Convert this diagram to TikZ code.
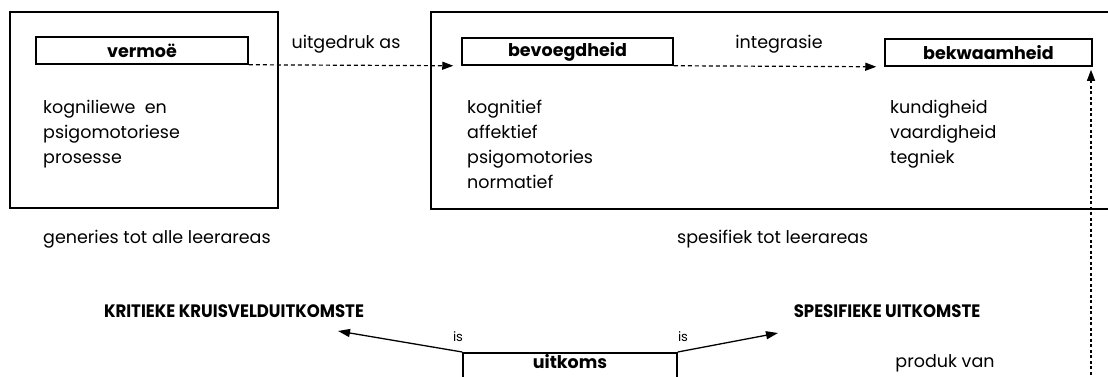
\documentclass[tikz,border=0pt]{standalone}
\usepackage{fontspec}
\setmainfont{Poppins}
\newfontfamily\capsfont[FakeStretch=0.92]{Poppins}
\usetikzlibrary{arrows.meta}
\begin{document}
\begin{tikzpicture}[x=1pt,y=-1pt,
  frame/.style={draw,line width=1.5pt,inner sep=0pt,anchor=north west},
  lbox/.style={draw,line width=1.5pt,inner sep=0pt,minimum height=27pt,font=\fontsize{17.5}{19}\selectfont\bfseries},
  txt/.style={inner sep=0pt,font=\fontsize{17.5}{25}\selectfont,align=left,anchor=north west},
  lab/.style={inner sep=0pt,font=\fontsize{17.5}{19}\selectfont},
  caps/.style={inner sep=0pt,font=\capsfont\fontsize{18}{20}\selectfont\bfseries},
  small/.style={inner sep=0pt,font=\fontsize{13}{14}\selectfont},
  dashline/.style={line width=1.2pt,dash pattern=on 4pt off 3pt,-{Triangle[length=11pt,width=8pt]}},
  solidarrow/.style={line width=1.3pt,-{Triangle[length=12pt,width=8pt]}}]
\useasboundingbox (0,0) rectangle (1108,376);
% big frames
\node[frame,minimum width=268pt,minimum height=196pt] (bigL) at (9,11) {};
\node[frame,minimum width=700pt,minimum height=197pt] (bigR) at (430,11) {};
% labelled boxes
\node[lbox,minimum width=212pt] (vermoe) at (142,50.5) {vermoë};
\node[lbox,minimum width=211pt] (bevoeg) at (567.5,51.5) {bevoegdheid};
\node[lbox,minimum width=207pt] (bekwaam) at (988.5,52.5) {bekwaamheid};
\node[lbox,minimum width=214pt,minimum height=30pt,text height=13pt,text depth=12pt,anchor=north] (uitkoms) at (570,352) {uitkoms};
% lists
\node[txt] (listL) at (43,100) {kogniliewe\ \ en\\psigomotoriese\\prosesse};
\node[txt] (listM) at (467,100) {kognitief\\affektief\\psigomotories\\normatief};
\node[txt] (listR) at (890,100) {kundigheid\\vaardigheid\\tegniek};
% labels
\node[lab] (uitgedruk) at (346,44) {uitgedruk as};
\node[lab] (integrasie) at (779,44) {integrasie};
\node[lab,anchor=west] (generies) at (43,239) {generies tot alle leerareas};
\node[lab,anchor=west] (spesifiek) at (677,239) {spesifiek tot leerareas};
\node[lab] (produk) at (945,363) {produk van};
\node[caps] (krit) at (234,311) {KRITIEKE KRUISVELDUITKOMSTE};
\node[caps] (spes) at (887,311) {SPESIFIEKE UITKOMSTE};
\node[small] (isL) at (458,337) {is};
\node[small] (isR) at (683,337) {is};
% connectors
\draw[dashline] (vermoe.south east) -- ([xshift=-8pt]bevoeg.south west);
\draw[dashline] (bevoeg.south east) -- ([xshift=-8pt]bekwaam.south west);
\coordinate (vstart) at (1091,380);
\draw[line width=1.2pt,dash pattern=on 3pt off 2.5pt,-{Triangle[length=11pt,width=8pt]},shorten >=3pt] (vstart) -- (vstart |- bekwaam.south);
\coordinate (kritTip) at (338,331);
\coordinate (spesTip) at (778,333);
\draw[solidarrow] (uitkoms.north west) -- (kritTip);
\draw[solidarrow] (uitkoms.north east) -- (spesTip);
\end{tikzpicture}
\end{document}
